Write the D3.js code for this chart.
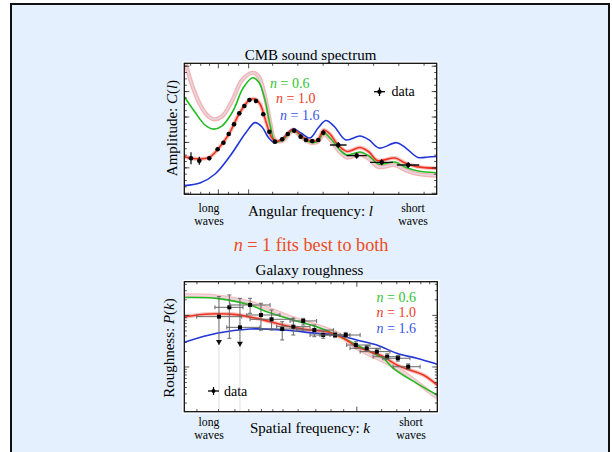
<!DOCTYPE html>
<html><head><meta charset="utf-8">
<script src="https://cdn.jsdelivr.net/npm/d3@7"></script>
<style>
html,body{margin:0;padding:0;background:#fff;}
svg{display:block;}
text{font-family:"Liberation Serif","Times New Roman",serif;}
</style></head>
<body>
<svg id="c" width="612" height="452"></svg>
<script>
// ---------- TOP CHART: CMB sound spectrum (arbitrary units, x 0..100, y 0..100) ----------
const cmbX_n10 = [0,5,9.8,13.2,17.6,21.8,25.6,28,30,32.4,34.3,36.2,38.7,43.1,47,50.6,53,55.2,57.7,60.9,64.5,69.6,73.2,76.4,83.5,87.5,92.1,100];
const cmbY_n10 = [28.7,27.1,28.1,34.2,45.7,61.7,71.6,72.8,68.9,55.2,44.5,40.3,41.8,49.5,43.7,40.5,41.8,49.1,46,37.6,32.7,35.7,32.3,25.8,27.7,23.9,21.1,19.8];
const cmbX_n06 = [0,4.2,8.2,11.4,14.9,19.3,23.3,27.1,29.6,32,34,35.9,38.7,43.1,47,50.6,53,55.2,58.1,61.3,64.5,69.6,73.2,77,83.5,87.9,92.6,100];
const cmbY_n06 = [74.5,62.8,52.9,49.8,52.1,63.6,81.1,89,85.4,71.9,52.9,40.7,41.1,48.8,43,39.5,40.7,46.8,42.2,34.6,30,32.3,29.2,23.1,24.6,20.5,17.8,16.5];
const cmbX_n16 = [0,6.2,12.2,18.1,24.3,28,30.8,33.2,35.9,39.5,43.1,46.2,49.8,53,56.1,59.3,64,69.6,73.2,77.2,84.1,87.8,92.6,96.6,100];
const cmbY_n16 = [6.6,8.6,15.5,29.2,46.8,54.7,51.4,43.7,39.4,43.7,49.8,46.8,43,50.6,56.3,52.1,41.5,44.5,41.5,35.3,39.4,35.3,28.1,28.5,28.9];
const cmbX_alt = [0,3.1,6.2,9,11.5,14.9,18.9,22.9,27.1,29.6,32,34,35.9,38.7,43.1,47,50.6,53,55.2,58.1,61.3,64.5,69.6,73.2,77,83.5,87.9,92.6,100];
const cmbY_alt = [104,83.2,68.7,60.5,57.3,59.4,71.2,87.3,92.8,89.5,74.3,55.2,41.5,40.7,48.3,42.6,39.2,40.3,46,41.1,33.1,28.1,30.4,26.9,20.8,22.3,18.2,15.5,14.2];
// data points
const cmbDataX  = [2.65,5.94,9.9,13.2,15.5,17.6,19.7,21.8,23.8,25.8,28.4,31.3,33.7,35.9,38.8,41,43.5,46.1,48.2,50.7,53.1,55.1,61,68.3,78.2,88.7];
const cmbDataY  = [27.5,25.6,27.5,34.4,39.4,46,53.4,61.8,67.4,72,71.2,61.1,47.8,40.2,42,46,48.6,44,41.5,40.7,41.5,47,37.6,29.5,24.4,22.4];
const cmbDataEy = [4.6,3,1.5,1.2,1.2,1.2,1.2,1.2,1.2,1.2,1.2,1.2,1.2,1.2,1.2,1.2,1.2,1.5,1.5,1.5,1.5,2,2.3,2.3,2.3,2.3];
const cmbDataXlo = [null,null,null,null,null,null,null,null,null,null,null,null,null,null,null,null,null,null,null,null,null,null,57.7,64.3,73.6,84.2];
const cmbDataXhi = [null,null,null,null,null,null,null,null,null,null,null,null,null,null,null,null,null,null,null,null,null,null,64.3,72.3,82.7,93.1];

// ---------- BOTTOM CHART: Galaxy roughness (arbitrary units) ----------
const galX_n06 = [0,12.8,26,32.6,43.1,52.3,60.2,68.2,76.1,78.7,82.6,91.9,100];
const galY_n06 = [87.8,87.2,82.1,76.9,70.5,65.4,59,51.3,43.6,41.1,33.4,21.8,12.8];
const galX_n10 = [0,10.2,19.4,28.6,39.1,49.7,56.3,62.9,68.2,73,78.7,84,89.2,94.5,100];
const galY_n10 = [73.1,75.2,74.9,71.8,66.7,62.8,61.5,56.5,50,46.5,42.3,35.9,32.1,28.2,20.5];
const galX_n16 = [0,12.8,26,39.1,52.3,60.2,68.2,76.1,84,91.9,100];
const galY_n16 = [53.4,60.3,63.6,62.8,60.3,59,55.2,51.3,44.9,41.1,36.5];
const galX_alt = [0,12.8,26,43.1,60.2,68.2,76.1,84,91.9,100];
const galY_alt = [89.5,88.7,84.1,71.9,60.5,49,41.3,33.6,22.8,10.5];
const galDataX   = [13.7,17.8,22,26,30.3,34.5,38.7,43.1,47,51.4,54.9,59.6,63.8,67.8,72.1,76.1,80.2,84.4,88.5];
const galDataY   = [73.1,80.3,64.9,82.1,74.4,71.1,63.6,65.4,69.8,62.8,59,59,59,51.3,48.8,46.2,42.3,41.1,34.6];
const galDataYhi = [88.5,89.8,87.2,87.2,83.4,78.2,69.2,71.8,71.8,66.7,61.5,61,61,53.8,51,48.4,44.5,43.3,36.8];
const galDataYlo = [51.3,56.5,50,75.7,62.8,62.8,55.2,59,66.7,57.7,56.5,57,57,48.8,46.6,44,40.1,38.9,32.4];
const galDataXlo = [4.9,12.1,16.8,18.1,24.7,26,29.9,36.5,41.8,44.4,49.7,53.6,57.6,64.2,65.5,69.5,74.6,78.5,82.5];
const galDataXhi = [22.7,23.2,29.9,33.9,37.8,43,46.9,49.7,52.3,58.9,61.6,65.5,69.5,73.4,77.4,81.3,85.2,89.2,93.2];
const galUpperLimit = [true,false,true,false,false,false,false,false,false,false,false,false,false,false,false,false,false,false,false];

// tick positions (axis units)
const cmbYMajor = [0.8,20.2,39.6,59,78.4,97.8];
const galYMajor = [34.4,74.1];

const legendLabels = ["n = 0.6","n = 1.0","n = 1.6"];
const seriesColors = ["#22bb22","#ee3322","#2236d8"];
const legendColors = ["#2fc42f","#ee3a26","#3a55e8"];

// ---------------------------------------------------------------
const svg = d3.select("#c");
svg.append("rect").attr("x",0).attr("y",0).attr("width",612).attr("height",452).attr("fill","#ffffff");
svg.append("rect").attr("x",11).attr("y",4).attr("width",598).attr("height",520)
   .attr("fill","#e4f0fd").attr("stroke","#111").attr("stroke-width",2);

function panel(cfg){
  const g = svg.append("g");
  const x = d3.scaleLinear().domain([0,100]).range([cfg.x0,cfg.x1]);
  const y = d3.scaleLinear().domain([0,100]).range([cfg.y1,cfg.y0]);
  g.append("rect").attr("x",cfg.x0-2).attr("y",cfg.y0-2).attr("width",cfg.x1-cfg.x0+4).attr("height",cfg.y1-cfg.y0+4).attr("fill","#fff");
  const cid = "clip"+cfg.id;
  svg.append("clipPath").attr("id",cid).append("rect").attr("x",cfg.x0).attr("y",cfg.y0).attr("width",cfg.x1-cfg.x0).attr("height",cfg.y1-cfg.y0);
  const plot = g.append("g").attr("clip-path","url(#"+cid+")");
  return {g,x,y,plot};
}

function line(x,y){ return d3.line().x(d=>x(d[0])).y(d=>y(d[1])).curve(d3.curveCatmullRom.alpha(0.5)); }
function zip(a,b){ return a.map((v,i)=>[v,b[i]]); }

function frameAndTicks(P, yMajor, yMinorStep, xTicksMajor, xTicksMinor){
  const {g,x,y} = P;
  const yMinor = [];
  if(yMinorStep>0){
    for(let i=0;i<yMajor.length;i++){
      for(let k=1;k<5;k++){ const v = yMajor[i]+k*yMinorStep; if(v<100) yMinor.push(v); }
    }
  }
  const tl = g.append("g").attr("stroke","#222").attr("stroke-width",0.8);
  yMajor.forEach(v=>{
    tl.append("line").attr("x1",x(0)).attr("x2",x(0)+5).attr("y1",y(v)).attr("y2",y(v));
    tl.append("line").attr("x1",x(100)).attr("x2",x(100)-5).attr("y1",y(v)).attr("y2",y(v));
  });
  yMinor.forEach(v=>{
    tl.append("line").attr("x1",x(0)).attr("x2",x(0)+2.5).attr("y1",y(v)).attr("y2",y(v));
    tl.append("line").attr("x1",x(100)).attr("x2",x(100)-2.5).attr("y1",y(v)).attr("y2",y(v));
  });
  xTicksMajor.forEach(v=>{
    tl.append("line").attr("y1",y(0)).attr("y2",y(0)-5).attr("x1",x(v)).attr("x2",x(v));
    tl.append("line").attr("y1",y(100)).attr("y2",y(100)+5).attr("x1",x(v)).attr("x2",x(v));
  });
  xTicksMinor.forEach(v=>{
    tl.append("line").attr("y1",y(0)).attr("y2",y(0)-2.5).attr("x1",x(v)).attr("x2",x(v));
    tl.append("line").attr("y1",y(100)).attr("y2",y(100)+2.5).attr("x1",x(v)).attr("x2",x(v));
  });
  g.append("rect").attr("x",x(0)).attr("y",y(100)).attr("width",x(100)-x(0)).attr("height",y(0)-y(100))
   .attr("fill","none").attr("stroke","#111").attr("stroke-width",1.3);
}

// x tick sets (axis units)
const cmbXMajor = [13.5,25.5];
const cmbXMinor = [2.5,6.5,10,17.5,21.5,35,45,55,65,75,85,95];
const galXMajor = [68.2];
const galXMinor = [5,13.5,20,25.5,30.5,35,39,45,52,58,63,78,84,89,93.5,97];

const FS_TITLE = 15, FS_AXIS = 15, FS_LEG = 14, FS_SMALL = 11.8;

function twoLine(g, x, y1, y2, a, b){
  g.append("text").attr("x",x).attr("y",y1).attr("text-anchor","middle").attr("font-size",FS_SMALL).text(a);
  g.append("text").attr("x",x).attr("y",y2).attr("text-anchor","middle").attr("font-size",FS_SMALL).text(b);
}

// ===== TOP =====
const T = panel({id:"t",x0:184.3,x1:436.7,y0:63.3,y1:194.3});
{
  const L = line(T.x,T.y);
  const p = T.plot;
  p.append("path").attr("d",L(zip(cmbX_alt,cmbY_alt))).attr("fill","none").attr("stroke","#f6b2b2").attr("stroke-width",4.2);
  p.append("path").attr("d",L(zip(cmbX_alt,cmbY_alt))).attr("fill","none").attr("stroke","#e2d8e2").attr("stroke-width",1.6);
  p.append("path").attr("d",L(zip(cmbX_n10,cmbY_n10))).attr("fill","none").attr("stroke","#f8c2bd").attr("stroke-width",4);
  p.append("path").attr("d",L(zip(cmbX_n16,cmbY_n16))).attr("fill","none").attr("stroke",seriesColors[2]).attr("stroke-width",1.6);
  p.append("path").attr("d",L(zip(cmbX_n06,cmbY_n06))).attr("fill","none").attr("stroke",seriesColors[0]).attr("stroke-width",1.6);
  p.append("path").attr("d",L(zip(cmbX_n10,cmbY_n10))).attr("fill","none").attr("stroke",seriesColors[1]).attr("stroke-width",1.6);
  const d = p.append("g");
  cmbDataX.forEach((vx,i)=>{
    d.append("line").attr("x1",T.x(vx)).attr("x2",T.x(vx)).attr("y1",T.y(cmbDataY[i]-cmbDataEy[i])).attr("y2",T.y(cmbDataY[i]+cmbDataEy[i])).attr("stroke","#000").attr("stroke-width",1.2);
    if(cmbDataXlo[i]!==null){
      d.append("line").attr("x1",T.x(cmbDataXlo[i])).attr("x2",T.x(cmbDataXhi[i])).attr("y1",T.y(cmbDataY[i])).attr("y2",T.y(cmbDataY[i])).attr("stroke","#111").attr("stroke-width",1.4);
    }
    d.append("circle").attr("cx",T.x(vx)).attr("cy",T.y(cmbDataY[i])).attr("r",2.3).attr("fill","#000");
  });
  frameAndTicks(T,cmbYMajor,4.85,cmbXMajor,cmbXMinor);
  const g = T.g;
  g.append("text").attr("x",310.5).attr("y",59.5).attr("text-anchor","middle").attr("font-size",FS_TITLE).text("CMB sound spectrum");
  const lx=[270,276,280], ly=[87.5,103,119.5];
  legendLabels.forEach((s,i)=>{
    const t = g.append("text").attr("x",lx[i]).attr("y",ly[i]).attr("font-size",FS_LEG).attr("fill",legendColors[i]);
    t.append("tspan").attr("font-style","italic").text("n");
    t.append("tspan").text(s.slice(1));
  });
  g.append("line").attr("x1",374).attr("x2",385).attr("y1",91.7).attr("y2",91.7).attr("stroke","#000").attr("stroke-width",1.3);
  g.append("line").attr("x1",379.5).attr("x2",379.5).attr("y1",87.5).attr("y2",96).attr("stroke","#000").attr("stroke-width",1.2);
  g.append("circle").attr("cx",379.5).attr("cy",91.7).attr("r",2.2).attr("fill","#000");
  g.append("text").attr("x",391.5).attr("y",95.5).attr("font-size",FS_LEG).text("data");
  const xl = g.append("text").attr("x",310.5).attr("y",216).attr("text-anchor","middle").attr("font-size",FS_AXIS);
  xl.append("tspan").text("Angular frequency:  ");
  xl.append("tspan").attr("font-style","italic").text("l");
  const yl = g.append("text").attr("transform","translate(177,128) rotate(-90)").attr("text-anchor","middle").attr("font-size",FS_AXIS);
  yl.append("tspan").text("Amplitude: ");
  yl.append("tspan").attr("font-style","italic").text("C");
  yl.append("tspan").text("(");
  yl.append("tspan").attr("font-style","italic").text("l");
  yl.append("tspan").text(")");
  twoLine(g,209,211.8,225,"long","waves");
  twoLine(g,413,211.8,225,"short","waves");
}

// ===== MIDDLE TEXT =====
{
  const t = svg.append("text").attr("x",311).attr("y",251).attr("text-anchor","middle").attr("font-size",18.2).attr("fill","#f04a22");
  t.append("tspan").attr("font-style","italic").text("n");
  t.append("tspan").text(" = 1 fits best to both");
}

// ===== BOTTOM =====
const B = panel({id:"b",x0:184.3,x1:437.3,y0:281.7,y1:411.7});
{
  const L = line(B.x,B.y);
  const p = B.plot;
  p.append("path").attr("d",L(zip(galX_alt,galY_alt))).attr("fill","none").attr("stroke","#f7bcbc").attr("stroke-width",4);
  p.append("path").attr("d",L(zip(galX_alt,galY_alt))).attr("fill","none").attr("stroke","#e8dce4").attr("stroke-width",1.5);
  p.append("path").attr("d",L(zip(galX_n10,galY_n10))).attr("fill","none").attr("stroke","#f8c2bd").attr("stroke-width",4);
  p.append("path").attr("d",L(zip(galX_n16,galY_n16))).attr("fill","none").attr("stroke",seriesColors[2]).attr("stroke-width",1.6);
  p.append("path").attr("d",L(zip(galX_n06,galY_n06))).attr("fill","none").attr("stroke",seriesColors[0]).attr("stroke-width",1.6);
  p.append("path").attr("d",L(zip(galX_n10,galY_n10))).attr("fill","none").attr("stroke",seriesColors[1]).attr("stroke-width",1.6);
  const d = p.append("g");
  galDataX.forEach((vx,i)=>{
    const col="#666";
    if(galUpperLimit[i]){
      d.append("line").attr("x1",B.x(vx)).attr("x2",B.x(vx)).attr("y1",B.y(galDataYlo[i])).attr("y2",B.y(0)).attr("stroke","#ccc").attr("stroke-width",0.6);
    }
    d.append("line").attr("x1",B.x(vx)).attr("x2",B.x(vx)).attr("y1",B.y(galDataYlo[i])).attr("y2",B.y(galDataYhi[i])).attr("stroke",col).attr("stroke-width",1);
    d.append("line").attr("x1",B.x(vx)-2).attr("x2",B.x(vx)+2).attr("y1",B.y(galDataYhi[i])).attr("y2",B.y(galDataYhi[i])).attr("stroke",col).attr("stroke-width",1);
    if(galUpperLimit[i]){
      const ax=B.x(vx), ay=B.y(galDataYlo[i]);
      d.append("path").attr("d",`M${ax-3},${ay-5}L${ax+3},${ay-5}L${ax},${ay}Z`).attr("fill","#111");
    } else {
      d.append("line").attr("x1",B.x(vx)-2).attr("x2",B.x(vx)+2).attr("y1",B.y(galDataYlo[i])).attr("y2",B.y(galDataYlo[i])).attr("stroke",col).attr("stroke-width",1);
    }
    d.append("line").attr("x1",B.x(galDataXlo[i])).attr("x2",B.x(galDataXhi[i])).attr("y1",B.y(galDataY[i])).attr("y2",B.y(galDataY[i])).attr("stroke",col).attr("stroke-width",1);
    [galDataXlo[i],galDataXhi[i]].forEach(e=>{
      d.append("line").attr("x1",B.x(e)).attr("x2",B.x(e)).attr("y1",B.y(galDataY[i])-2).attr("y2",B.y(galDataY[i])+2).attr("stroke",col).attr("stroke-width",1);
    });
    d.append("rect").attr("x",B.x(vx)-2).attr("y",B.y(galDataY[i])-2).attr("width",4).attr("height",4).attr("fill","#000");
  });
  frameAndTicks(B,galYMajor,0,galXMajor,galXMinor);
  const g = B.g;
  const dec = galYMajor[1]-galYMajor[0];
  const tl = g.append("g").attr("stroke","#222").attr("stroke-width",0.8);
  [-1,0,1].forEach(k=>{
    for(let m=2;m<10;m++){
      const v = galYMajor[0]+k*dec+Math.log10(m)*dec;
      if(v>0&&v<100){
        tl.append("line").attr("x1",B.x(0)).attr("x2",B.x(0)+2.5).attr("y1",B.y(v)).attr("y2",B.y(v));
        tl.append("line").attr("x1",B.x(100)).attr("x2",B.x(100)-2.5).attr("y1",B.y(v)).attr("y2",B.y(v));
      }
    }
  });
  g.append("text").attr("x",309.5).attr("y",275).attr("text-anchor","middle").attr("font-size",FS_TITLE).text("Galaxy roughness");
  const lx=[376.5,376.5,376.5], ly=[301.5,317,332.5];
  legendLabels.forEach((s,i)=>{
    const t = g.append("text").attr("x",lx[i]).attr("y",ly[i]).attr("font-size",FS_LEG).attr("fill",legendColors[i]);
    t.append("tspan").attr("font-style","italic").text("n");
    t.append("tspan").text(s.slice(1));
  });
  g.append("line").attr("x1",208).attr("x2",219).attr("y1",391).attr("y2",391).attr("stroke","#000").attr("stroke-width",1.3);
  g.append("line").attr("x1",213.5).attr("x2",213.5).attr("y1",387).attr("y2",395).attr("stroke","#000").attr("stroke-width",1.2);
  g.append("circle").attr("cx",213.5).attr("cy",391).attr("r",2).attr("fill","#000");
  g.append("text").attr("x",224).attr("y",395.5).attr("font-size",FS_LEG).text("data");
  const xl = g.append("text").attr("x",310).attr("y",432.5).attr("text-anchor","middle").attr("font-size",FS_AXIS);
  xl.append("tspan").text("Spatial frequency: ");
  xl.append("tspan").attr("font-style","italic").text("k");
  const yl = g.append("text").attr("transform","translate(174,348) rotate(-90)").attr("text-anchor","middle").attr("font-size",FS_AXIS);
  yl.append("tspan").text("Roughness:  ");
  yl.append("tspan").attr("font-style","italic").text("P");
  yl.append("tspan").text("(");
  yl.append("tspan").attr("font-style","italic").text("k");
  yl.append("tspan").text(")");
  twoLine(g,209,426,439.2,"long","waves");
  twoLine(g,411,426,439.2,"short","waves");
}
</script>
</body></html>
